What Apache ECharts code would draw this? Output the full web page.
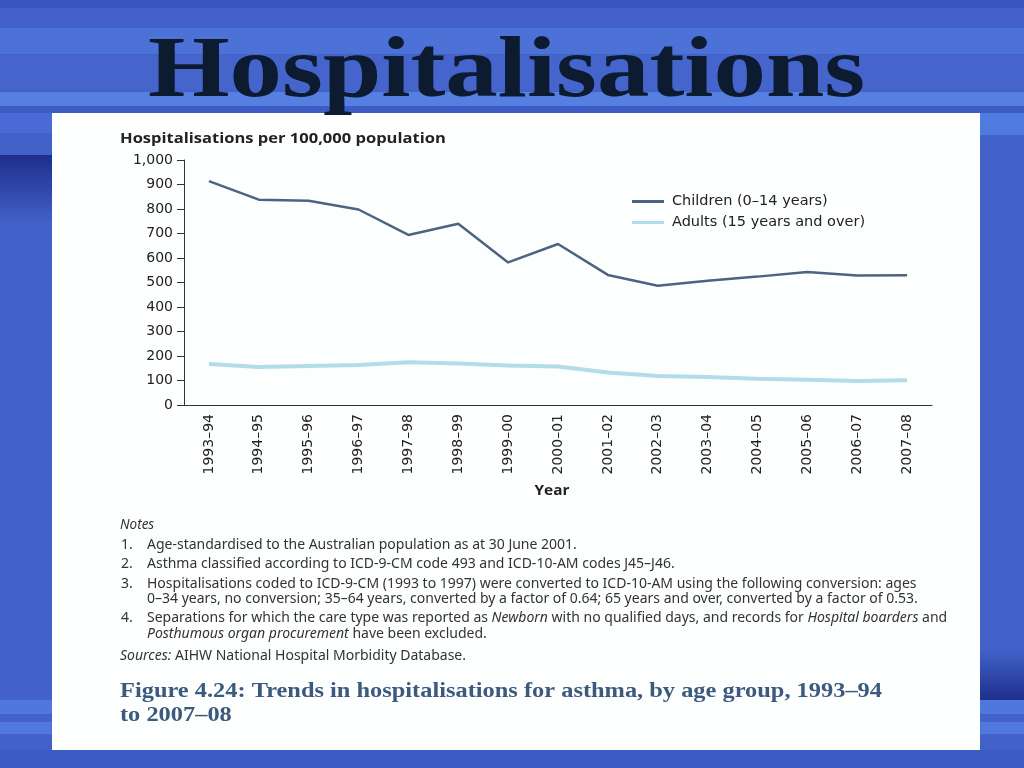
<!DOCTYPE html>
<html>
<head>
<meta charset="utf-8">
<script src="https://cdn.jsdelivr.net/npm/echarts@6/dist/echarts.min.js"></script>
<style>
html,body{margin:0;padding:0;background:#4262c8;}
#chart{width:1024px;height:768px;}
</style>
</head>
<body>
<div id="chart"></div>
<script>
const categories = ['1993–94','1994–95','1995–96','1996–97','1997–98','1998–99','1999–00','2000–01','2001–02','2002–03','2003–04','2004–05','2005–06','2006–07','2007–08'];
const children = [914, 838, 834, 798, 694, 740, 582, 657, 531, 487, 507, 524, 543, 529, 530];
const adults = [167, 155, 159, 163, 174, 169, 161, 157, 133, 118, 114, 107, 103, 98, 101];
const yTicks = [0, 1000, 100];
const seriesNames = ['Children (0–14 years)', 'Adults (15 years and over)'];
const notes = [
  ['1.', 'Age-standardised to the Australian population as at 30 June 2001.'],
  ['2.', 'Asthma classified according to ICD-9-CM code 493 and ICD-10-AM codes J45–J46.'],
  ['3.', 'Hospitalisations coded to ICD-9-CM (1993 to 1997) were converted to ICD-10-AM using the following conversion: ages'],
  ['', '0–34 years, no conversion; 35–64 years, converted by a factor of 0.64; 65 years and over, converted by a factor of 0.53.'],
  ['4.', 'Separations for which the care type was reported as {i|Newborn} with no qualified days, and records for {i|Hospital boarders} and'],
  ['', '{i|Posthumous organ procurement} have been excluded.']
];

const chart = echarts.init(document.getElementById('chart'));
const sansFont = '"Open Sans", "Noto Sans", sans-serif';
const axisFont = '"DejaVu Sans", sans-serif';
const noteFont = '"Noto Sans", sans-serif';

const bg = [];
function stripe(x, y, w, h, c) {
  bg.push({type:'rect', silent:true, z:-10, shape:{x:x,y:y,width:w,height:h}, style:{fill:c}});
}
stripe(0,0,1024,768,'#4262c9');
stripe(0,0,1024,8,'#3b55bf');
stripe(0,28,1024,26,'#4c72d8');
stripe(0,55,1024,35,'#4565cd');
stripe(0,92,1024,14,'#557fe0');
stripe(0,106,1024,7,'#3e5cc4');
stripe(980,113,44,22,'#4f7ade');
stripe(0,113,52,20,'#4a6bd6');
bg.push({type:'rect', silent:true, z:-9, shape:{x:0,y:155,width:52,height:70},
  style:{fill:new echarts.graphic.LinearGradient(0,0,0,1,[{offset:0,color:'#1f2f8c'},{offset:1,color:'#4262c9'}])}});
bg.push({type:'rect', silent:true, z:-9, shape:{x:980,y:650,width:44,height:50},
  style:{fill:new echarts.graphic.LinearGradient(0,0,0,1,[{offset:0,color:'#4262c9'},{offset:1,color:'#1f2f8c'}])}});
stripe(0,700,1024,14,'#5078dc');
stripe(0,714,1024,8,'#4262c9');
stripe(0,722,1024,12,'#5078dc');
stripe(0,750,1024,18,'#3c5bc3');
bg.push({type:'rect', silent:true, z:-5, shape:{x:52,y:113,width:928,height:637}, style:{fill:'#fdfefe'}});

const g = bg.slice();
// slide title
g.push({type:'text', x:148, y:117, scaleX:1.22, style:{text:'Hospitalisations', font:'bold 86px "Liberation Serif", serif', fill:'#0c1b30', textVerticalAlign:'bottom'}});
// y axis title
g.push({type:'text', x:120, y:139, scaleX:1.18, style:{text:'Hospitalisations per 100,000 population', font:'bold 14px ' + sansFont, fill:'#222', textVerticalAlign:'middle'}});
// x axis title
g.push({type:'text', x:552, y:491, scaleX:1.1, style:{text:'Year', font:'bold 14px ' + sansFont, fill:'#222', textAlign:'center', textVerticalAlign:'middle'}});
// notes
g.push({type:'text', x:120, y:525, style:{text:'Notes', font:'italic 13.5px ' + noteFont, fill:'#333', textVerticalAlign:'middle'}});
const noteYs = [545, 564, 584, 599, 618, 634];
notes.forEach(function(n, i){
  if (n[0]) g.push({type:'text', x:121, y:noteYs[i], style:{text:n[0], font:'14px ' + noteFont, fill:'#333', textVerticalAlign:'middle'}});
  g.push({type:'text', x:147, y:noteYs[i], style:{text:n[1], font:'14px ' + noteFont, fill:'#333', textVerticalAlign:'middle',
    rich:{i:{fontStyle:'italic', fontSize:14, fontFamily:'Noto Sans', fill:'#333'}}}});
});
g.push({type:'text', x:120, y:656, style:{text:'{i|Sources:} AIHW National Hospital Morbidity Database.', font:'14px ' + noteFont, fill:'#333', textVerticalAlign:'middle',
  rich:{i:{fontStyle:'italic', fontSize:14, fontFamily:'Noto Sans', fill:'#333'}}}});
// caption
g.push({type:'text', x:120, y:692, scaleX:1.19, style:{text:'Figure 4.24: Trends in hospitalisations for asthma, by age group, 1993–94', font:'bold 20.5px "Liberation Serif", serif', fill:'#3b5a7e', textVerticalAlign:'middle'}});
g.push({type:'text', x:120, y:716, scaleX:1.19, style:{text:'to 2007–08', font:'bold 20.5px "Liberation Serif", serif', fill:'#3b5a7e', textVerticalAlign:'middle'}});

chart.setOption({
  animation:false,
  backgroundColor:'transparent',
  graphic:g,
  legend:{
    orient:'vertical', left:627, top:189, itemWidth:32, itemHeight:3, itemGap:6,
    icon:'rect',
    textStyle:{fontFamily:axisFont, fontSize:14.5, color:'#222', lineHeight:14, padding:[0,0,0,3]},
    data:seriesNames
  },
  grid:{left:184, right:92, top:160, bottom:363, containLabel:false},
  xAxis:{
    type:'category', data:categories, boundaryGap:true,
    axisLine:{lineStyle:{color:'#333', width:1}},
    axisTick:{alignWithLabel:true, length:6, lineStyle:{color:'#333'}},
    axisLabel:{rotate:90, fontFamily:axisFont, fontSize:14, color:'#222', margin:9, interval:0}
  },
  yAxis:{
    type:'value', min:yTicks[0], max:yTicks[1], interval:yTicks[2],
    splitLine:{show:false},
    axisLine:{show:true, lineStyle:{color:'#333', width:1}},
    axisTick:{show:true, length:7, lineStyle:{color:'#333'}},
    axisLabel:{fontFamily:axisFont, fontSize:14, color:'#222', margin:11,
      formatter:function(v){return v.toLocaleString('en-US');}}
  },
  series:[
    {name:seriesNames[0], type:'line', data:children, showSymbol:false, symbol:'none',
      lineStyle:{color:'#4d6382', width:2.5}, itemStyle:{color:'#4d6382'}, z:3},
    {name:seriesNames[1], type:'line', data:adults, showSymbol:false, symbol:'none',
      lineStyle:{color:'#b3dcea', width:4}, itemStyle:{color:'#b3dcea'}, z:2}
  ]
});
</script>
</body>
</html>
